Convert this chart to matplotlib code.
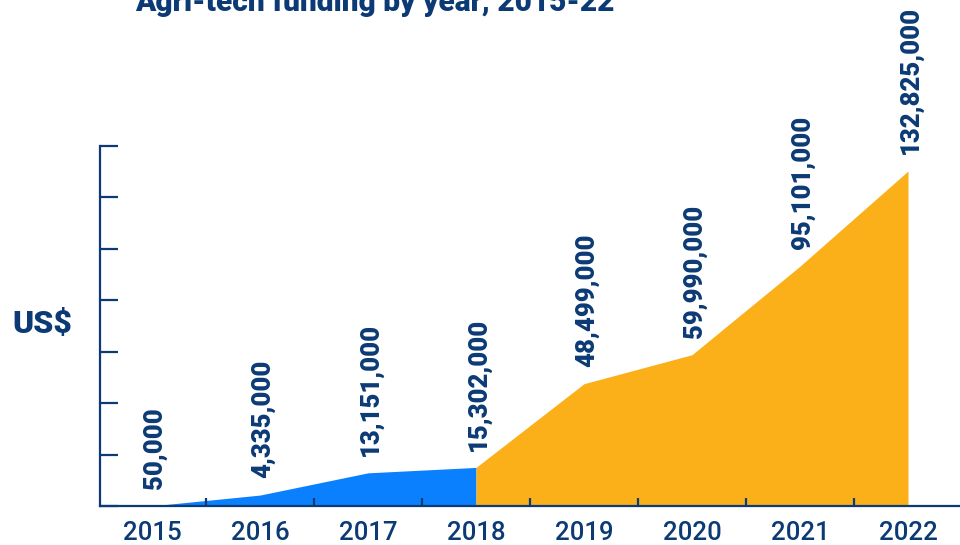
import matplotlib
matplotlib.use("Agg")
import matplotlib.pyplot as plt
import numpy as np

# ── data ─────────────────────────────────────────────────────────────────────
years = ["2015", "2016", "2017", "2018", "2019", "2020", "2021", "2022"]
funding = [50_000, 4_335_000, 13_151_000, 15_302_000,
           48_499_000, 59_990_000, 95_101_000, 132_825_000]
split_year = "2018"          # blue up to here, orange from here on

# ── style ────────────────────────────────────────────────────────────────────
NAVY = "#0b3a75"
BLUE = "#0a80ff"
ORANGE = "#fbb01a"
FONT = ["Roboto", "DejaVu Sans"]

W, H = 960, 545
fig = plt.figure(figsize=(W / 100, H / 100), dpi=100)

# axes box in pixels: spine at x=100, baseline at y=506, top tick at y=145.7
left_px, right_px, base_px, top_px = 100, 960, 506, 145.7
ax = fig.add_axes([left_px / W, (H - base_px) / H,
                   (right_px - left_px) / W, (base_px - top_px) / H])

x = np.arange(len(years))
y = np.array(funding, dtype=float)
k = years.index(split_year)

ax.fill_between(x[:k + 1], 0, y[:k + 1], color=BLUE, linewidth=0)
ax.fill_between(x[k:], 0, y[k:], color=ORANGE, linewidth=0)

# value labels, rotated above each point
for xi, yi in zip(x, y):
    ax.annotate(f"{int(yi):,}", (xi, yi), xytext=(2, 12),
                textcoords="offset points", rotation=90,
                ha="center", va="bottom", color=NAVY,
                fontsize=18.5, fontweight="heavy", family=FONT,
                annotation_clip=False)

# scale: 132.825M sits 335 px above the baseline
px_per_unit = 335 / funding[-1]
ymax = (base_px - top_px) / px_per_unit
ax.set_ylim(0, ymax)
ax.set_xlim((left_px - 152) / 108, (right_px - 152) / 108)

ax.set_yticks(np.linspace(0, ymax, 8))
ax.set_yticklabels([])
ax.tick_params(axis="y", direction="in", length=13, width=1.6, color=NAVY)

ax.set_xticks(x)
ax.set_xticklabels(years, fontsize=18.5, color=NAVY, family=FONT,
                   fontweight="medium")
ax.tick_params(axis="x", which="major", length=0, pad=11)
ax.set_xticks(x[:-1] + 0.5, minor=True)
ax.tick_params(axis="x", which="minor", direction="in", length=6,
               width=1.6, color=NAVY)

for side in ("top", "right"):
    ax.spines[side].set_visible(False)
for side in ("left", "bottom"):
    ax.spines[side].set_color(NAVY)
    ax.spines[side].set_linewidth(1.6)

fig.text(42 / W, 1 - 324.5 / H, "US$", ha="center", va="center",
         color=NAVY, fontsize=23, fontweight="heavy", family=FONT)
fig.text(135 / W, 1 - 11 / H, "Agri-tech funding by year, 2015-22",
         ha="left", va="baseline", color=NAVY, fontsize=21.5,
         fontweight="heavy", family=FONT)

fig.savefig("out.png", dpi=100)
